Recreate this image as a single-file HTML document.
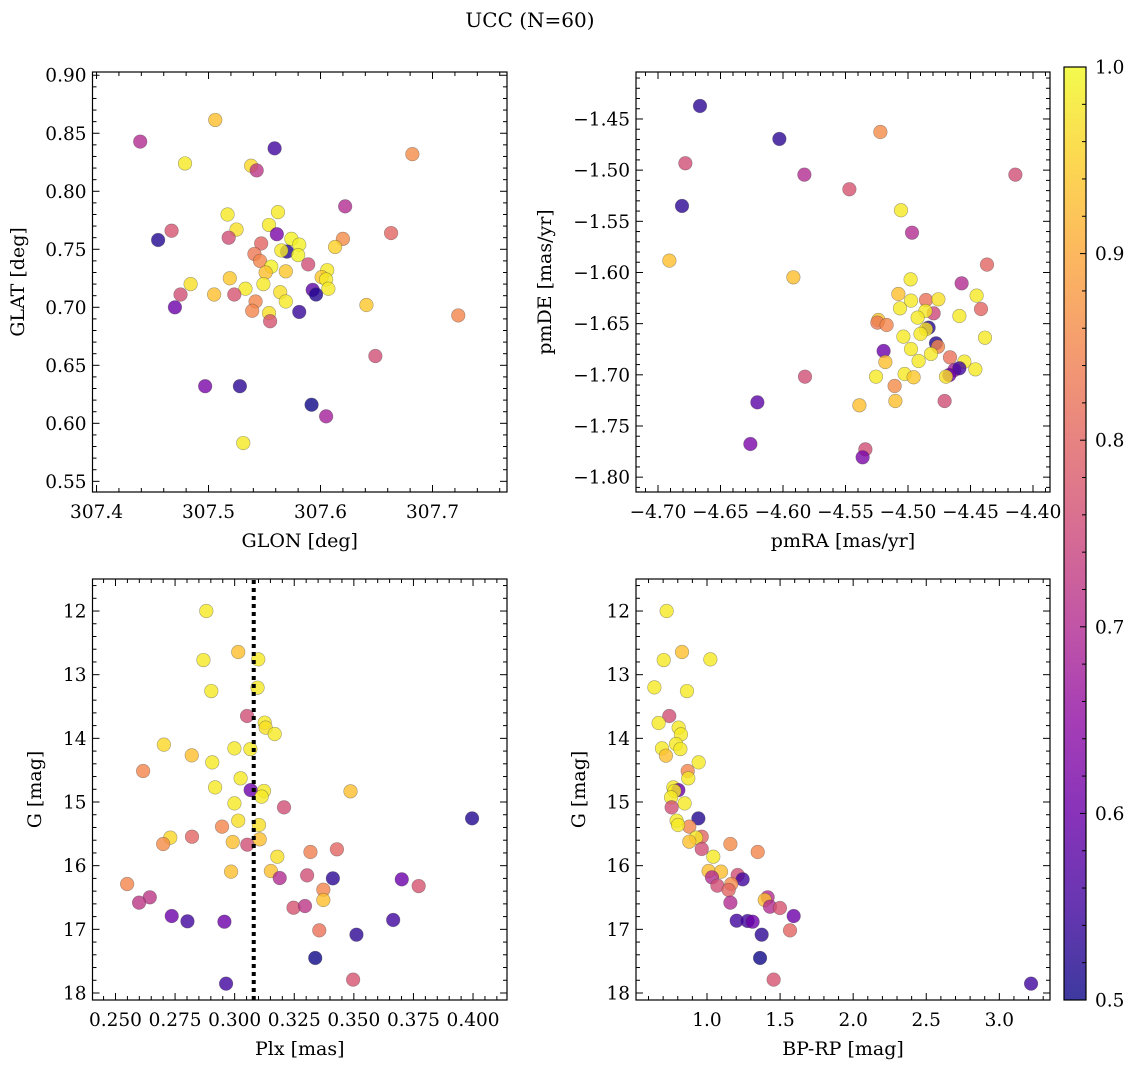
<!DOCTYPE html>
<html><head><meta charset="utf-8"><style>
html,body{margin:0;padding:0;background:#fff;}
svg{display:block;font-family:"DejaVu Serif","Liberation Serif",serif;}
</style></head><body>
<svg id="fig" width="1136" height="1067" viewBox="0 0 1136 1067" xmlns="http://www.w3.org/2000/svg">
<text x="530" y="27" font-size="20" text-anchor="middle">UCC (N=60)</text>
</svg>
<script>
// ---- Panel 1: GLON / GLAT ----
const p1Lon=[307.506,307.439,307.559,307.682,307.479,307.538,307.543,307.622,307.517,307.562,307.467,307.455,307.525,307.518,307.554,307.561,307.574,307.581,307.663,307.620,307.613,307.547,307.541,307.570,307.565,307.580,307.546,307.556,307.589,307.551,307.569,307.606,307.601,307.605,307.519,307.484,307.533,307.549,307.607,307.593,307.596,307.475,307.505,307.523,307.564,307.569,307.542,307.470,307.539,307.554,307.581,307.555,307.641,307.723,307.649,307.497,307.528,307.592,307.605,307.531];
const p1Lat=[0.8615,0.8428,0.837,0.832,0.824,0.822,0.818,0.787,0.780,0.782,0.766,0.758,0.767,0.760,0.771,0.763,0.759,0.754,0.764,0.759,0.752,0.755,0.746,0.748,0.749,0.745,0.740,0.735,0.737,0.730,0.731,0.732,0.726,0.724,0.725,0.720,0.716,0.720,0.716,0.715,0.711,0.711,0.711,0.711,0.713,0.705,0.705,0.700,0.697,0.695,0.696,0.688,0.702,0.693,0.658,0.632,0.632,0.616,0.606,0.583];
const p1Prob=[0.93,0.7,0.55,0.86,0.98,0.96,0.72,0.7,0.98,0.98,0.77,0.52,0.97,0.76,0.98,0.62,0.99,0.99,0.8,0.86,0.95,0.8,0.83,0.52,0.98,0.99,0.85,0.99,0.76,0.93,0.94,0.98,0.94,0.98,0.94,0.97,0.98,0.98,0.98,0.58,0.52,0.76,0.93,0.77,0.97,0.98,0.85,0.6,0.85,0.97,0.54,0.77,0.94,0.85,0.76,0.62,0.53,0.5,0.68,0.98];
const p1XTicks=["307.4","307.5","307.6","307.7"];
const p1YTicks=["0.55","0.60","0.65","0.70","0.75","0.80","0.85","0.90"];

// ---- Panel 2: pmRA / pmDE ----
const p2RA=[-4.6664,-4.6029,-4.5221,-4.6781,-4.5829,-4.5469,-4.4141,-4.6808,-4.5056,-4.4968,-4.6909,-4.5917,-4.4368,-4.4571,-4.4979,-4.5077,-4.4976,-4.4856,-4.4757,-4.4451,-4.4416,-4.5064,-4.4795,-4.4861,-4.4923,-4.4589,-4.5237,-4.5245,-4.5171,-4.4835,-4.4856,-4.4384,-4.5037,-4.4776,-4.4760,-4.5195,-4.4976,-4.4816,-4.5181,-4.4915,-4.4664,-4.4549,-4.4461,-4.4629,-4.4589,-4.4669,-4.4696,-4.5256,-4.5027,-4.4955,-4.5824,-4.5107,-4.5101,-4.4707,-4.5389,-4.6205,-4.6261,-4.5341,-4.5363,-4.4900];
const p2DE=[-1.4373,-1.4695,-1.4627,-1.4933,-1.5044,-1.5187,-1.5044,-1.535,-1.5392,-1.5611,-1.5884,-1.6047,-1.5923,-1.6106,-1.6067,-1.621,-1.6275,-1.6269,-1.6262,-1.6226,-1.6357,-1.635,-1.6399,-1.6376,-1.6441,-1.6425,-1.6464,-1.649,-1.6513,-1.6539,-1.6555,-1.6637,-1.6627,-1.6692,-1.6725,-1.6767,-1.6748,-1.6796,-1.6875,-1.6865,-1.6829,-1.6871,-1.6946,-1.6953,-1.6936,-1.7002,-1.7018,-1.7018,-1.6992,-1.7024,-1.7018,-1.7109,-1.7256,-1.7256,-1.7298,-1.7269,-1.7676,-1.7728,-1.7806,-1.6600];
const p2Prob=[0.53,0.53,0.86,0.76,0.7,0.77,0.76,0.53,0.98,0.7,0.93,0.93,0.8,0.7,0.98,0.93,0.98,0.82,0.97,0.98,0.8,0.98,0.75,0.98,0.98,0.98,0.94,0.83,0.85,0.52,0.97,0.98,0.98,0.52,0.85,0.6,0.98,0.98,0.93,0.98,0.82,0.98,0.98,0.68,0.55,0.6,0.97,0.98,0.98,0.94,0.76,0.86,0.93,0.76,0.93,0.58,0.62,0.76,0.62,0.98];
const p2XTicks=["−4.70","−4.65","−4.60","−4.55","−4.50","−4.45","−4.40"];
const p2YTicks=["−1.80","−1.75","−1.70","−1.65","−1.60","−1.55","−1.50","−1.45"];

// ---- Panel 3: Plx / G ----
const p3Plx=[0.2881,0.3015,0.2869,0.3099,0.2902,0.3096,0.3052,0.3126,0.3130,0.3168,0.2703,0.2999,0.3066,0.2820,0.2906,0.2616,0.3025,0.2918,0.3067,0.3123,0.3113,0.3486,0.2999,0.3207,0.3996,0.3015,0.2947,0.3102,0.2821,0.2730,0.2700,0.2992,0.3053,0.3105,0.3179,0.3318,0.3429,0.2985,0.3152,0.3189,0.3304,0.3412,0.3701,0.3772,0.2549,0.3372,0.3372,0.2644,0.2599,0.3247,0.3295,0.2736,0.2802,0.2957,0.3665,0.3355,0.3511,0.3338,0.3497,0.2964];
const p3G=[12.0,12.644,12.77,12.759,13.257,13.204,13.649,13.754,13.832,13.932,14.099,14.157,14.168,14.267,14.377,14.513,14.628,14.77,14.812,14.827,14.916,14.832,15.021,15.084,15.257,15.293,15.387,15.361,15.545,15.56,15.66,15.628,15.67,15.586,15.859,15.785,15.743,16.094,16.084,16.194,16.152,16.199,16.215,16.32,16.288,16.377,16.539,16.497,16.581,16.66,16.634,16.791,16.874,16.88,16.853,17.016,17.084,17.45,17.79,17.853];
const p3Prob=[0.98,0.93,0.98,0.98,0.98,0.98,0.76,0.98,0.97,0.98,0.96,0.98,0.98,0.93,0.98,0.85,0.98,0.98,0.6,0.98,0.98,0.93,0.98,0.76,0.52,0.97,0.85,0.97,0.8,0.96,0.86,0.93,0.76,0.93,0.97,0.84,0.8,0.93,0.93,0.7,0.76,0.53,0.6,0.77,0.85,0.85,0.93,0.72,0.72,0.77,0.72,0.6,0.55,0.6,0.55,0.82,0.53,0.5,0.77,0.55];
const p3Plx0=0.308;
const p3XTicks=["0.250","0.275","0.300","0.325","0.350","0.375","0.400"];
const gTicks=["12","13","14","15","16","17","18"];

// ---- Panel 4: BP-RP / G ----
const p4BR=[0.724,0.829,0.704,1.023,0.640,0.863,0.742,0.669,0.806,0.822,0.788,0.692,0.818,0.719,0.943,0.868,0.872,0.770,0.804,0.777,0.754,0.847,0.758,0.941,0.792,0.879,0.802,0.964,0.925,0.879,0.964,1.160,1.347,1.043,1.011,1.096,1.034,1.210,1.244,1.071,1.166,1.148,1.415,1.395,1.160,1.431,1.499,1.593,1.203,1.278,1.312,1.568,1.374,1.363,1.456,3.217];
const p4G=[12.0,12.644,12.77,12.759,13.199,13.257,13.649,13.759,13.832,13.937,14.089,14.157,14.168,14.272,14.377,14.513,14.628,14.77,14.812,14.827,14.927,15.021,15.084,15.257,15.293,15.387,15.361,15.545,15.56,15.623,15.738,15.66,15.785,15.859,16.084,16.094,16.183,16.147,16.215,16.314,16.288,16.382,16.497,16.539,16.581,16.644,16.665,16.791,16.864,16.869,16.880,17.016,17.084,17.45,17.79,17.853];
const p4Prob=[0.98,0.93,0.98,0.98,0.98,0.98,0.76,0.98,0.98,0.98,0.98,0.98,0.98,0.93,0.98,0.85,0.98,0.98,0.6,0.98,0.98,0.98,0.76,0.52,0.98,0.85,0.98,0.8,0.98,0.93,0.76,0.86,0.85,0.98,0.93,0.93,0.7,0.76,0.55,0.76,0.86,0.8,0.7,0.93,0.7,0.7,0.77,0.6,0.55,0.55,0.6,0.8,0.53,0.5,0.77,0.55];
const p4XTicks=["1.0","1.5","2.0","2.5","3.0"];
const cbTicks=["0.5","0.6","0.7","0.8","0.9","1.0"];

const NS="http://www.w3.org/2000/svg";
const svg=document.getElementById('fig');
const TF=18.5, LF=19;
function mk(tag,attrs,parent){const e=document.createElementNS(NS,tag);for(const k in attrs)e.setAttribute(k,attrs[k]);(parent||svg).appendChild(e);return e;}
const stops=[[0,[13,8,135]],[0.1,[65,4,157]],[0.2,[106,0,168]],[0.3,[143,13,164]],[0.4,[177,42,144]],[0.5,[204,71,120]],[0.6,[225,100,98]],[0.7,[242,132,75]],[0.8,[252,166,54]],[0.9,[252,206,37]],[1.0,[240,249,33]]];
function plasma(t){t=Math.max(0,Math.min(1,t));for(let i=0;i<stops.length-1;i++){const a=stops[i],b=stops[i+1];if(t<=b[0]){const f=(t-a[0])/(b[0]-a[0]);const c=a[1].map((v,j)=>Math.round(v+(b[1][j]-v)*f));return `rgb(${c[0]},${c[1]},${c[2]})`;}}return 'rgb(240,249,33)';}
function pcol(p){return plasma((p-0.5)/0.5);}

function panel(cfg){
  const g=mk('g',{});
  
  
  const {x0,x1,y0,y1,xmin,xmax,ymin,ymax,yinv}=cfg;
  const sx=v=>x0+(v-xmin)/(xmax-xmin)*(x1-x0);
  const sy=v=>yinv? y0+(v-ymin)/(ymax-ymin)*(y1-y0) : y1-(v-ymin)/(ymax-ymin)*(y1-y0);
  for(let i=0;i<cfg.xs.length;i++){
    const c=mk('circle',{cx:sx(cfg.xs[i]),cy:sy(cfg.ys[i]),r:6.8,fill:pcol(cfg.ps[i]),'fill-opacity':0.8,stroke:'rgba(60,60,60,0.45)','stroke-width':0.6},g);
    
    
  }
  if(cfg.extra) cfg.extra(g,sx,sy);
  const fr=mk('rect',{x:x0,y:y0,width:x1-x0,height:y1-y0,fill:'none',stroke:'#000','stroke-width':1.2},g);
  
  
  const xa=mk('g',{},g);
  
  
  for(let v=cfg.xminorStart; v<=xmax+1e-9; v+=cfg.xminor){
    if(v<xmin-1e-9) continue;
    const X=sx(v);const maj=Math.abs(Math.round((v-cfg.xmajStart)/cfg.xmaj)*cfg.xmaj+cfg.xmajStart-v)<cfg.xminor/10;
    const L=maj?7:4;
    mk('line',{x1:X,x2:X,y1:y1,y2:y1-L,stroke:'#000','stroke-width':1},xa);
    mk('line',{x1:X,x2:X,y1:y0,y2:y0+L,stroke:'#000','stroke-width':1},xa);
  }
  cfg.xticks.forEach((lab,i)=>{const v=cfg.xmajStart+i*cfg.xmaj;const t=mk('text',{x:sx(v),y:y1+26,'font-size':TF,'text-anchor':'middle'},xa);t.textContent=lab;
    });
  const ya=mk('g',{},g);
  
  
  for(let v=cfg.yminorStart; v<=ymax+1e-9; v+=cfg.yminor){
    if(v<ymin-1e-9) continue;
    const Y=sy(v);const maj=Math.abs(Math.round((v-cfg.ymajStart)/cfg.ymaj)*cfg.ymaj+cfg.ymajStart-v)<cfg.yminor/10;
    const L=maj?7:4;
    mk('line',{x1:x0,x2:x0+L,y1:Y,y2:Y,stroke:'#000','stroke-width':1},ya);
    mk('line',{x1:x1,x2:x1-L,y1:Y,y2:Y,stroke:'#000','stroke-width':1},ya);
  }
  cfg.yticks.forEach((lab,i)=>{const v=cfg.ymajStart+i*cfg.ymaj;const t=mk('text',{x:x0-6,y:sy(v)+6.5,'font-size':TF,'text-anchor':'end'},ya);t.textContent=lab;
    });
  const xl=mk('text',{x:(x0+x1)/2,y:y1+55,'font-size':LF,'text-anchor':'middle'},g);xl.textContent=cfg.xlabel;
  
  
  const yl=mk('text',{x:0,y:0,'font-size':LF,'text-anchor':'middle',transform:`translate(${cfg.ylx},${(y0+y1)/2}) rotate(-90)`},g);yl.textContent=cfg.ylabel;
  
  
}

panel({name:'glon-glat-panel',x0:92.5,x1:507,y0:72,y1:492,xmin:307.3964,xmax:307.7665,ymin:0.5408,ymax:0.9028,
 xs:p1Lon,ys:p1Lat,ps:p1Prob,xmajStart:307.4,xmaj:0.1,xminorStart:307.4,xminor:0.02,xticks:p1XTicks,
 ymajStart:0.55,ymaj:0.05,yminorStart:0.55,yminor:0.01,yticks:p1YTicks,xlabel:'GLON [deg]',ylabel:'GLAT [deg]',ylx:24});
panel({name:'propermotion-panel',x0:636,x1:1050,y0:72,y1:492,xmin:-4.7176,xmax:-4.3864,ymin:-1.8145,ymax:-1.4041,
 xs:p2RA,ys:p2DE,ps:p2Prob,xmajStart:-4.70,xmaj:0.05,xminorStart:-4.71,xminor:0.01,xticks:p2XTicks,
 ymajStart:-1.80,ymaj:0.05,yminorStart:-1.81,yminor:0.01,yticks:p2YTicks,xlabel:'pmRA [mas/yr]',ylabel:'pmDE [mas/yr]',ylx:551});
panel({name:'plx-g-panel',x0:92.5,x1:507,y0:579,y1:1000,xmin:0.24036,xmax:0.41425,ymin:11.497,ymax:18.11,yinv:true,
 xs:p3Plx,ys:p3G,ps:p3Prob,xmajStart:0.25,xmaj:0.025,xminorStart:0.245,xminor:0.005,xticks:p3XTicks,
 ymajStart:12,ymaj:1,yminorStart:11.6,yminor:0.2,yticks:gTicks,xlabel:'Plx [mas]',ylabel:'G [mag]',ylx:41,
 extra:(g,sx,sy)=>{const l=mk('line',{x1:sx(p3Plx0),x2:sx(p3Plx0),y1:580,y2:1000,stroke:'#000','stroke-width':4,'stroke-dasharray':'4 4'},g);
   }});
panel({name:'cmd-panel',x0:636,x1:1050,y0:579,y1:1000,xmin:0.5143,xmax:3.3466,ymin:11.497,ymax:18.11,yinv:true,
 xs:p4BR,ys:p4G,ps:p4Prob,xmajStart:1.0,xmaj:0.5,xminorStart:0.6,xminor:0.1,xticks:p4XTicks,
 ymajStart:12,ymaj:1,yminorStart:11.6,yminor:0.2,yticks:gTicks,xlabel:'BP-RP [mag]',ylabel:'G [mag]',ylx:585});

(function(){
  const cb=mk('g',{});
  
  
  const defs=mk('defs',{},cb);
  const lg=mk('linearGradient',{id:'cbg',x1:0,y1:1,x2:0,y2:0},defs);
  for(let i=0;i<=20;i++){mk('stop',{offset:i/20,'stop-color':plasma(i/20),'stop-opacity':0.8},lg);}
  const x0=1064,x1=1086,y0=67,y1=1000;
  mk('rect',{x:x0,y:y0,width:x1-x0,height:y1-y0,fill:'url(#cbg)',stroke:'#000','stroke-width':1.2},cb);
  const sy=v=>y1-(v-0.5)/0.5*(y1-y0);
  for(let k=0;k<=25;k++){const v=0.5+k*0.02;const Y=sy(v);const maj=k%5===0;
    mk('line',{x1:x1,x2:x1-(maj?6:4),y1:Y,y2:Y,stroke:'#000','stroke-width':1},cb);}
  cbTicks.forEach(lab=>{const t=mk('text',{x:x1+9,y:sy(parseFloat(lab))+6.5,'font-size':TF},cb);t.textContent=lab;
    });
})();
</script>
</body></html>
